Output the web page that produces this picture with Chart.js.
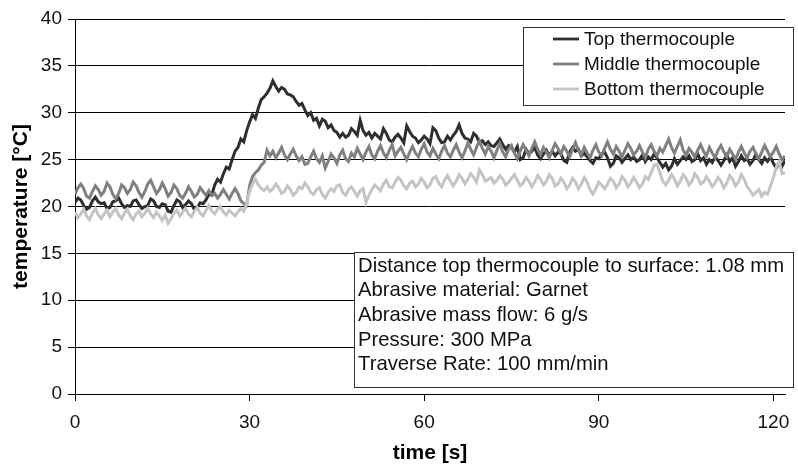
<!DOCTYPE html>
<html>
<head>
<meta charset="utf-8">
<script src="https://cdn.jsdelivr.net/npm/chart.js@4"></script>
<style>
  html, body { margin: 0; padding: 0; background: #fff; }
  #wrap { width: 798px; height: 471px; }
</style>
</head>
<body>
<div id="wrap"><canvas id="myChart" width="798" height="471"></canvas></div>
<script>
// samples every 0.5 s, from 0 s to 122 s
const timeStep = 0.5;

const topValues = [
  20.4,20.9,20.7,20.1,19.7,19.9,20.6,21.0,20.5,20.3,
  20.4,19.8,19.9,20.5,20.6,20.9,20.3,19.9,20.1,20.0,
  20.6,20.7,20.2,19.8,20.0,20.1,20.8,20.6,20.0,19.9,
  20.3,20.2,19.5,19.4,20.1,20.7,20.5,19.9,20.2,20.6,
  20.3,19.7,19.9,20.4,20.3,20.7,21.3,21.2,22.3,22.9,
  22.6,23.5,24.2,24.0,25.0,25.9,26.3,27.2,26.9,28.1,
  29.0,29.8,29.4,30.5,31.4,31.7,32.1,32.6,33.4,32.8,
  32.3,32.7,32.5,32.0,31.9,31.7,31.2,30.8,31.0,30.3,
  29.7,30.0,29.2,29.4,28.6,29.3,29.1,28.4,28.7,28.1,
  27.9,27.4,27.8,27.4,27.6,28.3,28.0,27.6,29.2,28.1,
  27.6,27.9,27.3,27.8,27.5,27.2,28.3,27.8,27.1,26.9,
  27.4,27.7,27.3,26.8,28.6,28.0,27.5,27.3,26.8,27.1,
  27.5,27.2,26.7,28.4,28.1,27.3,26.8,26.9,27.5,27.1,
  27.6,28.0,28.7,27.8,27.3,27.2,26.9,27.8,27.5,26.8,
  27.0,26.6,26.9,26.5,26.4,26.8,27.2,26.6,26.1,26.5,
  26.3,25.8,26.4,25.0,25.2,26.1,25.6,25.9,26.3,25.5,
  25.1,25.6,26.0,25.4,25.9,25.4,25.8,25.6,24.9,24.7,
  25.8,26.3,25.9,26.1,25.4,25.7,25.3,24.9,24.6,25.2,
  25.1,25.6,25.8,25.2,24.3,24.6,25.4,25.2,24.7,25.1,
  25.5,25.0,25.3,24.8,25.0,25.5,24.8,25.3,25.0,25.6,
  25.2,24.7,24.2,24.6,23.9,24.3,25.1,24.5,24.9,25.3,
  25.0,25.4,24.8,25.0,25.6,24.9,25.2,24.5,25.0,24.7,
  25.3,24.9,24.4,24.9,25.5,24.8,25.2,24.3,24.8,25.4,
  24.9,25.1,24.5,24.9,25.6,25.0,24.6,25.2,24.8,25.3,
  24.6,24.1,24.7,24.3,24.9
];

const middleValues = [
  21.3,22.0,22.4,21.9,21.1,20.9,21.6,22.2,21.8,21.2,
  21.6,22.5,22.1,21.3,20.8,21.4,22.3,22.0,21.4,21.8,
  22.6,22.2,21.5,21.0,21.6,22.4,22.8,22.1,21.4,21.8,
  22.5,21.9,21.1,21.5,22.3,21.9,21.2,20.9,21.4,22.1,
  21.6,21.0,21.3,22.0,21.6,21.2,21.7,21.2,21.4,20.9,
  21.3,21.8,21.3,20.8,21.4,21.9,21.4,20.6,20.3,20.1,
  22.2,23.2,23.6,23.9,24.4,24.7,26.0,25.4,25.9,25.2,
  25.7,26.3,25.5,25.0,25.6,26.1,25.4,24.9,25.3,24.5,
  24.6,25.3,25.9,25.1,24.7,25.4,24.1,24.8,25.6,25.2,
  24.6,25.5,26.0,25.1,24.8,25.7,25.3,26.2,25.6,25.0,
  25.8,26.4,25.5,25.1,25.9,26.5,25.7,25.2,26.0,26.6,
  25.4,25.9,26.3,25.6,25.0,25.8,26.4,25.7,25.3,26.1,
  26.7,25.8,25.4,26.2,25.6,25.1,25.9,26.5,25.7,25.3,
  26.0,26.6,25.8,25.2,25.9,26.8,26.1,25.5,26.3,27.0,
  26.2,25.6,26.4,25.9,25.2,26.0,26.7,25.8,25.3,26.1,
  26.5,25.7,25.1,25.9,26.6,26.0,25.4,26.2,26.9,26.1,
  25.5,26.3,25.8,25.2,26.0,26.7,26.2,25.6,26.4,25.9,
  25.3,26.1,26.8,26.0,25.5,26.3,25.7,25.2,26.0,26.6,
  25.8,25.4,26.2,26.9,26.1,25.6,26.4,25.9,25.3,26.0,
  26.7,26.2,25.5,25.9,26.5,25.8,25.2,26.1,26.6,25.9,
  25.4,26.2,25.8,26.5,27.2,26.3,25.7,26.4,27.1,26.0,
  25.5,26.2,25.8,25.3,26.0,26.6,25.9,25.4,26.3,25.7,
  25.2,26.0,26.5,25.8,25.3,26.1,25.6,25.0,25.8,26.4,
  25.7,25.2,25.9,26.3,25.6,25.1,25.8,26.5,25.9,25.3,
  25.8,26.4,25.6,25.0,25.4
];

const bottomValues = [
  19.4,18.8,19.2,19.7,19.0,18.6,19.3,19.8,19.1,18.7,
  19.2,19.6,18.9,19.4,19.8,19.1,18.7,19.3,19.7,19.0,
  18.6,19.2,19.5,18.9,19.3,19.8,19.2,18.8,19.4,19.0,
  18.5,19.1,18.2,18.7,19.3,19.6,19.0,19.4,19.8,19.2,
  18.9,19.5,19.9,19.3,19.0,19.6,20.1,19.5,19.2,19.7,
  20.0,19.4,19.1,19.6,19.3,19.0,19.4,19.8,19.5,20.3,
  21.6,22.4,22.9,22.3,21.9,21.7,22.1,21.6,21.9,22.4,
  22.0,21.4,21.6,22.2,21.8,21.2,21.5,22.1,21.9,22.5,
  22.1,21.5,21.3,21.8,22.0,21.3,20.9,21.5,21.9,21.6,
  22.2,22.3,21.5,21.2,21.8,22.1,21.6,21.1,21.7,21.9,
  20.4,21.2,21.8,22.3,22.0,21.7,22.4,22.8,22.1,22.0,
  22.6,23.1,22.8,22.2,21.9,22.5,22.7,22.1,22.4,23.0,
  22.6,22.0,22.3,23.0,23.2,22.5,22.1,22.8,23.3,22.7,
  22.2,22.7,23.4,23.0,22.4,22.9,23.5,23.1,22.6,23.9,
  23.4,22.7,22.9,23.1,22.5,22.8,23.3,22.9,22.3,22.6,
  23.0,23.4,22.8,22.2,22.5,23.1,22.7,22.1,22.6,23.3,
  22.9,22.3,22.7,23.4,23.0,22.2,22.4,23.0,22.6,21.9,
  22.3,23.0,22.6,21.9,22.4,23.1,22.6,21.8,21.3,21.9,
  22.6,22.3,21.9,22.4,23.0,22.7,22.0,22.4,23.2,22.8,
  22.1,22.5,23.1,22.6,22.0,22.4,23.2,22.9,23.6,24.4,
  24.5,23.6,22.7,22.3,22.8,23.4,22.9,22.2,22.7,23.4,
  23.0,22.3,22.7,23.5,23.1,22.4,22.6,23.2,22.7,22.1,
  22.5,23.1,22.7,22.0,22.5,23.3,22.9,22.2,22.6,23.4,
  22.9,22.1,21.7,21.2,21.5,21.8,21.1,21.5,21.3,22.2,
  23.1,24.2,24.8,23.5,23.6
];

const seriesNames = ['Top thermocouple', 'Middle thermocouple', 'Bottom thermocouple'];
const seriesColors = ['#2e2e2e', '#808080', '#c4c4c4'];
const xTicks = [0, 30, 60, 90, 120];
const yTicks = [0, 5, 10, 15, 20, 25, 30, 35, 40];
const notes = [
  'Distance top thermocouple to surface: 1.08 mm',
  'Abrasive material: Garnet',
  'Abrasive mass flow: 6 g/s',
  'Pressure: 300 MPa',
  'Traverse Rate: 100 mm/min'
];

const FONT = '"Liberation Sans", Arial, sans-serif';

function toPoints(values) {
  const pts = [];
  for (let i = 0; i < values.length; i++) pts.push({ x: i * timeStep, y: values[i] });
  return pts;
}

// legend box + parameters box, drawn like the original
const boxesPlugin = {
  id: 'boxes',
  afterDraw(chart) {
    const c = chart.ctx;
    c.save();
    // legend
    c.fillStyle = '#fff';
    c.fillRect(523, 27, 270, 78);
    c.strokeStyle = '#333';
    c.lineWidth = 1;
    c.strokeRect(523.5, 27.5, 270, 78);
    c.font = '19px ' + FONT;
    c.textBaseline = 'middle';
    c.textAlign = 'left';
    for (let i = 0; i < seriesNames.length; i++) {
      const y = 39 + i * 25;
      c.strokeStyle = seriesColors[i];
      c.lineWidth = 2.8;
      c.beginPath();
      c.moveTo(553, y);
      c.lineTo(579, y);
      c.stroke();
      c.fillStyle = '#111';
      c.fillText(seriesNames[i], 584, y + 1);
    }
    // parameters
    c.fillStyle = '#fff';
    c.fillRect(354, 252, 439, 135);
    c.strokeStyle = '#333';
    c.lineWidth = 1;
    c.strokeRect(354.5, 252.5, 439, 135);
    c.font = '20.3px ' + FONT;
    c.fillStyle = '#111';
    for (let i = 0; i < notes.length; i++) {
      c.fillText(notes[i], 358, 266 + i * 24.7);
    }
    c.restore();
  }
};

const ctx = document.getElementById('myChart');

new Chart(ctx, {
  type: 'line',
  data: {
    datasets: [
      { label: seriesNames[0], data: toPoints(topValues), borderColor: seriesColors[0], borderWidth: 3, order: 2 },
      { label: seriesNames[1], data: toPoints(middleValues), borderColor: seriesColors[1], borderWidth: 3, order: 1 },
      { label: seriesNames[2], data: toPoints(bottomValues), borderColor: seriesColors[2], borderWidth: 3, order: 0 }
    ]
  },
  options: {
    responsive: false,
    animation: false,
    parsing: false,
    elements: { point: { radius: 0 }, line: { tension: 0 } },
    layout: { padding: { top: 19, right: 13, left: 0, bottom: 0 } },
    plugins: {
      legend: { display: false },
      tooltip: { enabled: false }
    },
    scales: {
      x: {
        type: 'linear',
        min: 0,
        max: 122,
        afterFit(scale) {
          scale.height = 77;
          scale.paddingLeft = 0;
          scale.paddingRight = 0;
        },
        afterBuildTicks(scale) { scale.ticks = xTicks.map(v => ({ value: v })); },
        ticks: { font: { family: FONT, size: 19 }, color: '#111', padding: 10, maxRotation: 0 },
        grid: { drawOnChartArea: false, drawTicks: true, tickLength: 7, color: '#000' },
        border: { color: '#000', width: 1 },
        title: { display: true, text: 'time [s]', font: { family: FONT, size: 21, weight: 'bold' }, color: '#000', padding: { top: 0, bottom: 5 } }
      },
      y: {
        min: 0,
        max: 40,
        afterFit(scale) { scale.width = 75; },
        afterBuildTicks(scale) { scale.ticks = yTicks.map(v => ({ value: v })); },
        ticks: { font: { family: FONT, size: 19 }, color: '#111', padding: 6 },
        grid: { color: '#000', lineWidth: 1, drawTicks: true, tickLength: 7 },
        border: { color: '#000', width: 1 },
        title: { display: true, text: 'temperature [°C]', font: { family: FONT, size: 21, weight: 'bold' }, color: '#000', padding: { top: 9, bottom: 0 } }
      }
    }
  },
  plugins: [boxesPlugin]
});
</script>
</body>
</html>
